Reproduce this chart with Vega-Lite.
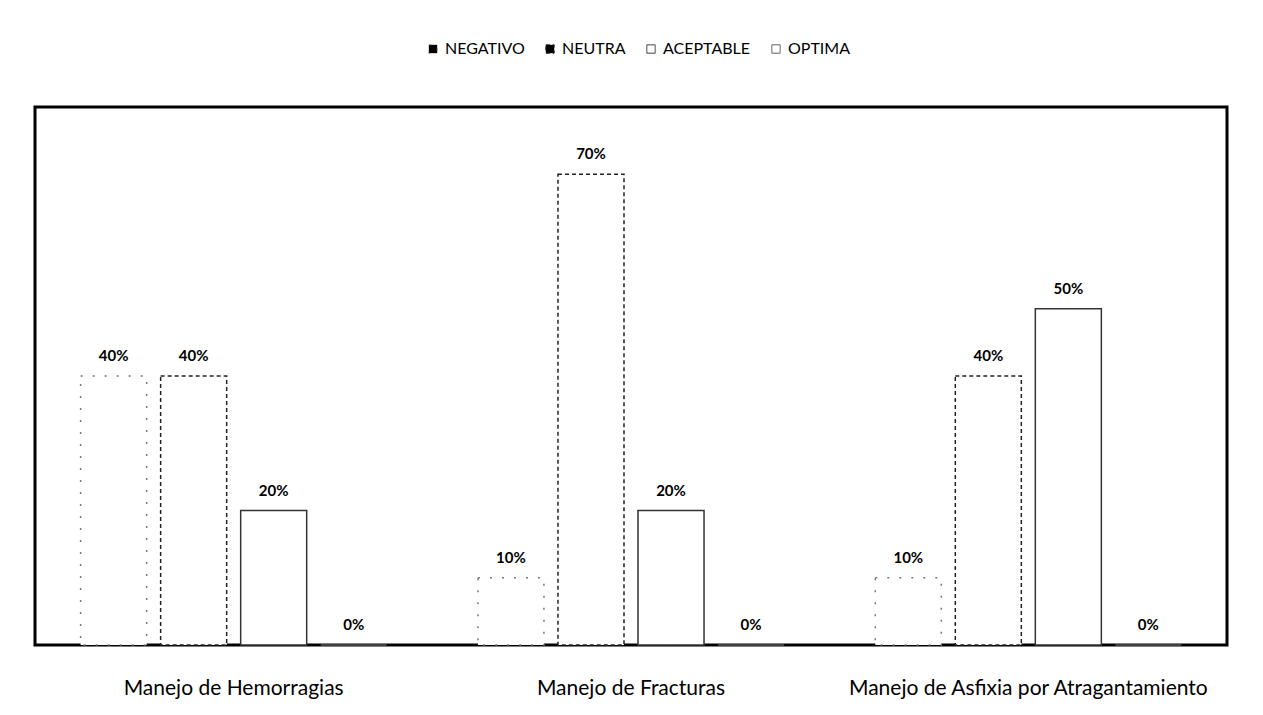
{
  "$schema": "https://vega.github.io/schema/vega-lite/v6.json",
  "width": 1192,
  "height": 538,
  "autosize": {"type": "none"},
  "padding": {"left": 35, "top": 107, "right": 36, "bottom": 70},
  "background": "white",
  "config": {
    "font": "Lato",
    "view": {"stroke": "black", "strokeWidth": 3}
  },
  "data": {
    "values": [
      {"Tema": "Manejo de Hemorragias", "Categoria": "NEGATIVO", "Valor": 0.4},
      {"Tema": "Manejo de Hemorragias", "Categoria": "NEUTRA", "Valor": 0.4},
      {"Tema": "Manejo de Hemorragias", "Categoria": "ACEPTABLE", "Valor": 0.2},
      {"Tema": "Manejo de Hemorragias", "Categoria": "OPTIMA", "Valor": 0.0},
      {"Tema": "Manejo de Fracturas", "Categoria": "NEGATIVO", "Valor": 0.1},
      {"Tema": "Manejo de Fracturas", "Categoria": "NEUTRA", "Valor": 0.7},
      {"Tema": "Manejo de Fracturas", "Categoria": "ACEPTABLE", "Valor": 0.2},
      {"Tema": "Manejo de Fracturas", "Categoria": "OPTIMA", "Valor": 0.0},
      {"Tema": "Manejo de Asfixia por Atragantamiento", "Categoria": "NEGATIVO", "Valor": 0.1},
      {"Tema": "Manejo de Asfixia por Atragantamiento", "Categoria": "NEUTRA", "Valor": 0.4},
      {"Tema": "Manejo de Asfixia por Atragantamiento", "Categoria": "ACEPTABLE", "Valor": 0.5},
      {"Tema": "Manejo de Asfixia por Atragantamiento", "Categoria": "OPTIMA", "Valor": 0.0}
    ]
  },
  "encoding": {
    "x": {
      "field": "Tema", "type": "nominal",
      "sort": ["Manejo de Hemorragias", "Manejo de Fracturas", "Manejo de Asfixia por Atragantamiento"],
      "scale": {"paddingInner": 0, "paddingOuter": 0},
      "axis": {"title": null, "labelAngle": 0, "labelFontSize": 21, "labelColor": "black", "labelPadding": 32, "labelLimit": 0, "ticks": false, "domain": false}
    },
    "xOffset": {
      "field": "Categoria", "type": "nominal",
      "sort": ["NEGATIVO", "NEUTRA", "ACEPTABLE", "OPTIMA"],
      "scale": {"paddingInner": 0.175, "paddingOuter": 0.57}
    },
    "y": {
      "field": "Valor", "type": "quantitative",
      "scale": {"domain": [0, 0.8]},
      "axis": null
    }
  },
  "layer": [
    {
      "mark": {"type": "point", "shape": "square", "filled": true, "opacity": 0},
      "encoding": {
        "fill": {
          "field": "Categoria", "type": "nominal",
          "sort": ["NEGATIVO", "NEUTRA", "ACEPTABLE", "OPTIMA"],
          "scale": {"domain": ["NEGATIVO", "NEUTRA", "ACEPTABLE", "OPTIMA"], "range": ["black", "black", "white", "white"]},
          "legend": {
            "title": null,
            "orient": "none",
            "direction": "horizontal",
            "legendX": 390,
            "legendY": -66,
            "labelFontSize": 16,
            "labelColor": "black",
            "symbolType": "square",
            "symbolSize": 70,
            "symbolOpacity": 1,
            "symbolStrokeColor": "black",
            "symbolStrokeWidth": 1,
            "symbolDash": [2, 2],
            "columnPadding": 17,
            "labelOffset": 4
          }
        }
      }
    },
    {
      "mark": {"type": "bar", "fill": "white", "strokeWidth": 1.5},
      "encoding": {
        "stroke": {
          "field": "Categoria", "type": "nominal",
          "scale": {"domain": ["NEGATIVO", "NEUTRA", "ACEPTABLE", "OPTIMA"], "range": ["#777777", "#222222", "#333333", "#555555"]},
          "legend": null
        },
        "strokeDash": {
          "field": "Categoria", "type": "nominal",
          "scale": {"domain": ["NEGATIVO", "NEUTRA", "ACEPTABLE", "OPTIMA"], "range": [[2, 10], [4, 3], [1, 0], [1, 0]]},
          "legend": null
        }
      }
    },
    {
      "mark": {"type": "text", "dy": -12, "fontSize": 15, "fontWeight": "bold", "color": "black", "baseline": "bottom"},
      "encoding": {
        "text": {"field": "Valor", "type": "quantitative", "format": ".0%"}
      }
    }
  ]
}
